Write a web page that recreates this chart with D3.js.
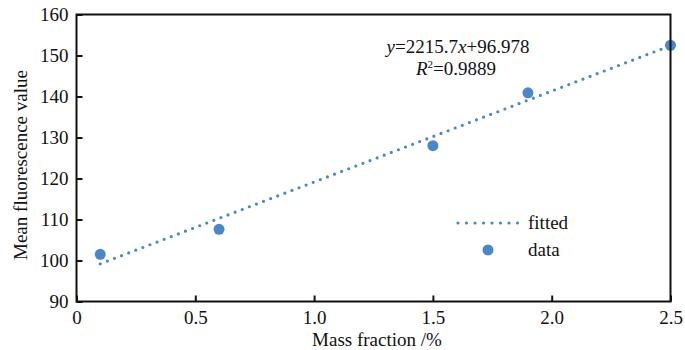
<!DOCTYPE html>
<html><head><meta charset="utf-8">
<script src="https://cdn.jsdelivr.net/npm/d3@7"></script>
<style>
html,body{margin:0;padding:0;background:#fff;}
svg{display:block;font-family:"Liberation Serif","Times New Roman",serif;}
</style></head>
<body><svg id="c" width="685" height="350"></svg>
<script>
const massFraction = [0.1, 0.6, 1.5, 1.9, 2.5];
const fluorescence = [101.5, 107.6, 128.0, 140.9, 152.5];
const fittedX = [0.1, 2.5];
const fittedY = [99.2, 152.4];
const xTicks = [0, 0.5, 1.0, 1.5, 2.0, 2.5];
const xTickLabels = ["0", "0.5", "1.0", "1.5", "2.0", "2.5"];
const yTicks = [90, 100, 110, 120, 130, 140, 150, 160];
const seriesNames = ["fitted", "data"];

const color = "#4a86c8";
const FONT = "Liberation Serif";
const svg = d3.select("#c");
const L = 76.5, R = 670.5, T = 14.5, B = 301.5;
const x = d3.scaleLinear().domain([0, 2.5]).range([L, R]);
const y = d3.scaleLinear().domain([90, 160]).range([B, T]);

// fitted line
svg.append("path")
  .datum(fittedX.map((d, i) => [d, fittedY[i]]))
  .attr("d", d3.line().x(d => x(d[0])).y(d => y(d[1])))
  .attr("fill", "none").attr("stroke", color)
  .attr("stroke-width", 3.2).attr("stroke-linecap", "round")
  .attr("stroke-dasharray", "0 7.6");

// data points
svg.append("g").selectAll("circle").data(massFraction).join("circle")
  .attr("cx", d => x(d)).attr("cy", (d, i) => y(fluorescence[i]))
  .attr("r", 5.5).attr("fill", color);

// axes
const fs = "19px";
const xAxis = d3.axisBottom(x).tickValues(xTicks).tickFormat((d, i) => xTickLabels[i])
  .tickSizeInner(-6).tickSizeOuter(0).tickPadding(9);
const gx = svg.append("g").attr("transform", `translate(0,${B})`).call(xAxis);
const yAxis = d3.axisLeft(y).tickValues(yTicks).tickFormat(d3.format("d"))
  .tickSizeInner(-6).tickSizeOuter(0).tickPadding(8);
const gy = svg.append("g").attr("transform", `translate(${L},0)`).call(yAxis);
[gx, gy].forEach(g => {
  g.attr("font-family", FONT).attr("font-size", fs);
  g.selectAll("text").attr("font-size", fs).attr("font-family", FONT).attr("fill", "#111");
  g.selectAll("line").attr("stroke", "#111").attr("stroke-width", 2);
  g.select(".domain").remove();
});
gy.selectAll("text").attr("dy", "0.34em");

// frame
svg.append("rect").attr("x", L).attr("y", T).attr("width", R - L).attr("height", B - T)
  .attr("fill", "none").attr("stroke", "#111").attr("stroke-width", 2);

// axis titles
svg.append("text").attr("x", 377).attr("y", 345.5).attr("text-anchor", "middle")
  .attr("font-size", fs).attr("fill", "#111").text("Mass fraction /%");
svg.append("text").attr("transform", "translate(27,165) rotate(-90)")
  .attr("text-anchor", "middle").attr("font-size", fs).attr("fill", "#111")
  .text("Mean fluorescence value");

// equation
const eq = svg.append("text").attr("x", 458).attr("y", 53).attr("text-anchor", "middle")
  .attr("font-size", fs).attr("fill", "#111");
eq.append("tspan").attr("font-style", "italic").text("y");
eq.append("tspan").text("=2215.7");
eq.append("tspan").attr("font-style", "italic").text("x");
eq.append("tspan").text("+96.978");
const r2 = svg.append("text").attr("x", 456).attr("y", 75).attr("text-anchor", "middle")
  .attr("font-size", fs).attr("fill", "#111");
r2.append("tspan").attr("font-style", "italic").text("R");
r2.append("tspan").attr("font-size", "11px").attr("dy", "-0.6em").text("2");
r2.append("tspan").attr("dy", "0.35em").text("=0.9889");

// legend
const lg = svg.append("g");
lg.append("line").attr("x1", 458).attr("x2", 518).attr("y1", 223).attr("y2", 223)
  .attr("stroke", color).attr("stroke-width", 3.2).attr("stroke-linecap", "round")
  .attr("stroke-dasharray", "0 8.5");
lg.append("circle").attr("cx", 488).attr("cy", 250).attr("r", 5.5).attr("fill", color);
lg.selectAll("text").data(seriesNames).join("text")
  .attr("x", 528).attr("y", (d, i) => 229 + i * 27)
  .attr("font-size", fs).attr("fill", "#111").text(d => d);
</script></body></html>
